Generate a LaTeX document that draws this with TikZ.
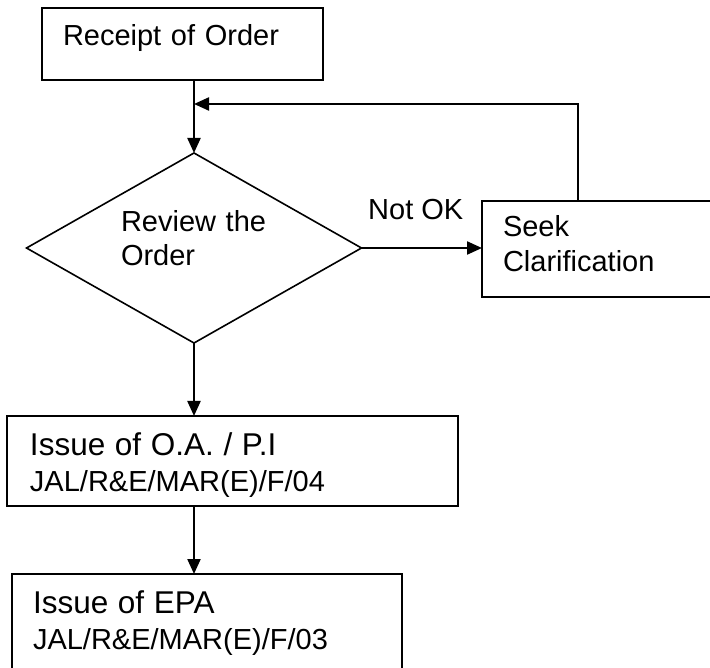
\documentclass[tikz,border=0pt]{standalone}
\usepackage{fontspec}
\setmainfont{Liberation Sans}
\usetikzlibrary{shapes.geometric,arrows.meta,positioning}

\begin{document}
\begin{tikzpicture}[x=1pt,y=-1pt,
  font=\fontsize{29}{34}\selectfont,
  box/.style={draw,line width=1.8pt,inner ysep=0pt,outer sep=0pt,align=left,anchor=north west},
  dec/.style={draw,diamond,line width=1.6pt,inner sep=0pt,outer sep=0pt,align=left,aspect=1.76},
  arr/.style={-{Triangle[length=15pt,width=13pt]},line width=2.2pt}]
\clip (0,0) rectangle (710,668);
\node[box,inner xsep=21pt,text width=239pt,text height=38pt,text depth=34pt] (receipt) at (42,8) {Receipt of Order};
\node[dec,minimum width=335pt,minimum height=190pt,text width=146pt,text height=20pt,text depth=52pt] (review) at (194,248) {Review the\\Order};
\node[box,inner xsep=21pt,text width=216pt,text height=36pt,text depth=60pt,font=\fontsize{29}{35}\selectfont] (seek) at (482,201) {Seek\\Clarification};
\node[box,inner xsep=23pt,text width=405pt,text height=39pt,text depth=51pt,font=\fontsize{29}{36}\selectfont] (issueoa) at (7,416) {{\fontsize{31.5}{36}\selectfont Issue of O.A. / P.I}\\JAL/R\&E/MAR(E)/F/04};
\node[box,inner xsep=21pt,text width=348pt,text height=39pt,text depth=80pt,font=\fontsize{29}{36}\selectfont] (issueepa) at (12,574) {{\fontsize{31.5}{36}\selectfont Issue of EPA}\\JAL/R\&E/MAR(E)/F/03};
\coordinate (join) at (194,104);
% main flow
\draw[arr] (receipt.south -| review.north) -- (review.north);
\draw[arr] (review.east) -- node[anchor=base,xshift=-6pt,yshift=28pt] (notok) {Not OK} (review.east -| seek.west);
\draw[arr] ([xshift=96pt]seek.north west) |- (join);
\draw[arr] (review.south) -- (review.south |- issueoa.north);
\draw[arr] (issueoa.south -| review.south) -- (review.south |- issueepa.north);
\end{tikzpicture}
\end{document}
